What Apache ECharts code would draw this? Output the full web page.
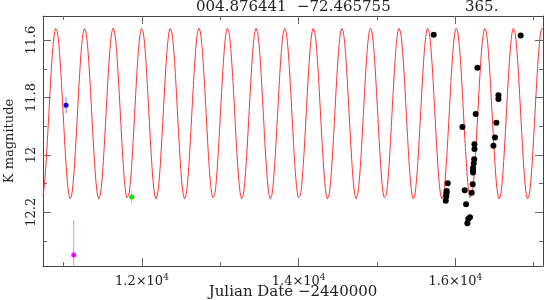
<!DOCTYPE html>
<html><head><meta charset="utf-8">
<script src="https://cdn.jsdelivr.net/npm/echarts@6/dist/echarts.min.js"></script>
<style>html,body{margin:0;padding:0;background:#fff}#c{width:545px;height:300px}</style>
</head><body><div id="c"></div>
<script>
// ---- data ----
const xMajorTicks = [12000, 14000, 16000];
const xMinorTicks = [11000, 13000, 15000, 17000];
const yMajorTicks = [11.6, 11.8, 12.0, 12.2];
const yMinorTicks = [11.7, 11.9, 12.1, 12.3];

const blackT   = [15724,16282,16550,16550,16834,16260,16091,16524,16506,16244,16244,16486,16241,16235,16226,16226,16226,16222,16209,16120,16137,15903,15890,15888,15884,15878,16187,16165,16154];
const blackMag = [11.581,11.696,11.792,11.805,11.584,11.857,11.903,11.888,11.939,11.963,11.979,11.968,12.015,12.030,12.046,12.054,12.061,12.102,12.132,12.123,12.172,12.099,12.126,12.133,12.145,12.160,12.217,12.223,12.238];

const blueT = [11031], blueMag = [11.827], blueErr = [0.028];
const greenT = [11869], greenMag = [12.147], greenErr = [0.022];
const magentaT = [11129], magentaMag = [12.349], magentaErr = [0.122];

// model light curve parameters (period shown in the header)
const modelPeriod = 365, modelMean = 11.856, modelAmp = 0.297, modelEpoch = 11998;

const headerRA = '004.876441', headerDec = '\u221272.465755', headerPeriod = '365.';

const XMIN = 10737, XMAX = 17119, YMIN = 11.516, YMAX = 12.387;

// ---- build ----
const modelPts = [];
for (let t = XMIN; t <= XMAX; t += 3) {
  modelPts.push([t, modelMean - modelAmp * Math.cos(2 * Math.PI * (t - modelEpoch) / modelPeriod)]);
}
const zip = (a, b) => a.map((v, i) => [v, b[i]]);
const fam = '"DejaVu Serif", serif';
const axCol = '#444', tkCol = '#666';

function xAx(pos, ticks, len, labels, line) {
  return {
    type: 'value', min: XMIN, max: XMAX, position: pos,
    axisLine: {show: line, onZero: false, lineStyle: {color: axCol, width: 1}},
    splitLine: {show: false},
    axisTick: {show: true, inside: true, length: len, customValues: ticks, lineStyle: {color: tkCol}},
    axisLabel: labels ? {
      show: true, customValues: ticks, margin: 7, fontFamily: fam, fontSize: 13, color: '#222',
      formatter: v => (v / 10000).toFixed(1) + '\u00d710{sup|4}',
      rich: {sup: {fontSize: 9, fontFamily: fam, color: '#222', verticalAlign: 'top', padding: [0, 0, 8, 0]}}
    } : {show: false},
    name: labels ? 'Julian Date \u22122440000' : '',
    nameLocation: 'middle', nameGap: 19, nameMoveOverlap: false,
    nameTextStyle: {fontFamily: fam, fontSize: 15, color: '#222'}
  };
}
function yAx(pos, ticks, len, labels, line) {
  return {
    type: 'value', min: YMIN, max: YMAX, inverse: true, position: pos,
    axisLine: {show: line, onZero: false, lineStyle: {color: axCol, width: 1}},
    splitLine: {show: false},
    axisTick: {show: true, inside: true, length: len, customValues: ticks, lineStyle: {color: tkCol}},
    axisLabel: labels ? {
      show: true, customValues: ticks, rotate: 90, margin: 5, fontFamily: fam, fontSize: 13, color: '#222',
      formatter: v => String(Math.round(v * 10) / 10)
    } : {show: false},
    name: labels ? 'K magnitude' : '',
    nameLocation: 'middle', nameGap: 27, nameRotate: 90, nameMoveOverlap: false,
    nameTextStyle: {fontFamily: fam, fontSize: 13, color: '#222'}
  };
}
function errBar(t, m, e, color) {
  return {
    type: 'line', data: [[t, m - e], [t, m + e]], symbol: 'none', silent: true,
    lineStyle: {color: color, width: 1}, clip: true, z: 3
  };
}

const chart = echarts.init(document.getElementById('c'), null, {renderer: 'canvas'});
chart.setOption({
  animation: false,
  backgroundColor: '#fff',
  grid: {left: 43, right: 2, top: 16, bottom: 34, containLabel: false, outerBoundsMode: 'none'},
  xAxis: [
    xAx('bottom', xMajorTicks, 8, true, true),
    xAx('bottom', xMinorTicks, 4, false, false),
    xAx('top', xMajorTicks, 8, false, true),
    xAx('top', xMinorTicks, 4, false, false)
  ],
  yAxis: [
    yAx('left', yMajorTicks, 8, true, true),
    yAx('left', yMinorTicks, 4, false, false),
    yAx('right', yMajorTicks, 8, false, true),
    yAx('right', yMinorTicks, 4, false, false)
  ],
  graphic: [
    {type: 'text', left: 196, top: 0, style: {text: headerRA, font: '15px ' + fam, fill: '#222'}},
    {type: 'text', left: 297, top: 0, style: {text: headerDec, font: '15px ' + fam, fill: '#222'}},
    {type: 'text', left: 465, top: 0, style: {text: headerPeriod, font: '15px ' + fam, fill: '#222'}}
  ],
  series: [
    {type: 'line', data: modelPts, symbol: 'none', smooth: false, clip: true,
     lineStyle: {color: '#ff3030', width: 1}, z: 2, silent: true},
    errBar(blueT[0], blueMag[0], blueErr[0], '#8080ff'),
    errBar(greenT[0], greenMag[0], greenErr[0], '#66ee66'),
    errBar(magentaT[0], magentaMag[0], magentaErr[0], '#ff77ff'),
    {type: 'scatter', data: zip(blackT, blackMag), symbolSize: 6, itemStyle: {color: '#000', opacity: 1}, z: 5},
    {type: 'scatter', data: zip(blueT, blueMag), symbolSize: 5, itemStyle: {color: '#0000ff', opacity: 1}, z: 5},
    {type: 'scatter', data: zip(greenT, greenMag), symbolSize: 5, itemStyle: {color: '#00ee00', opacity: 1}, z: 5},
    {type: 'scatter', data: zip(magentaT, magentaMag), symbolSize: 5, itemStyle: {color: '#ff00ff', opacity: 1}, z: 5}
  ]
});
</script></body></html>
